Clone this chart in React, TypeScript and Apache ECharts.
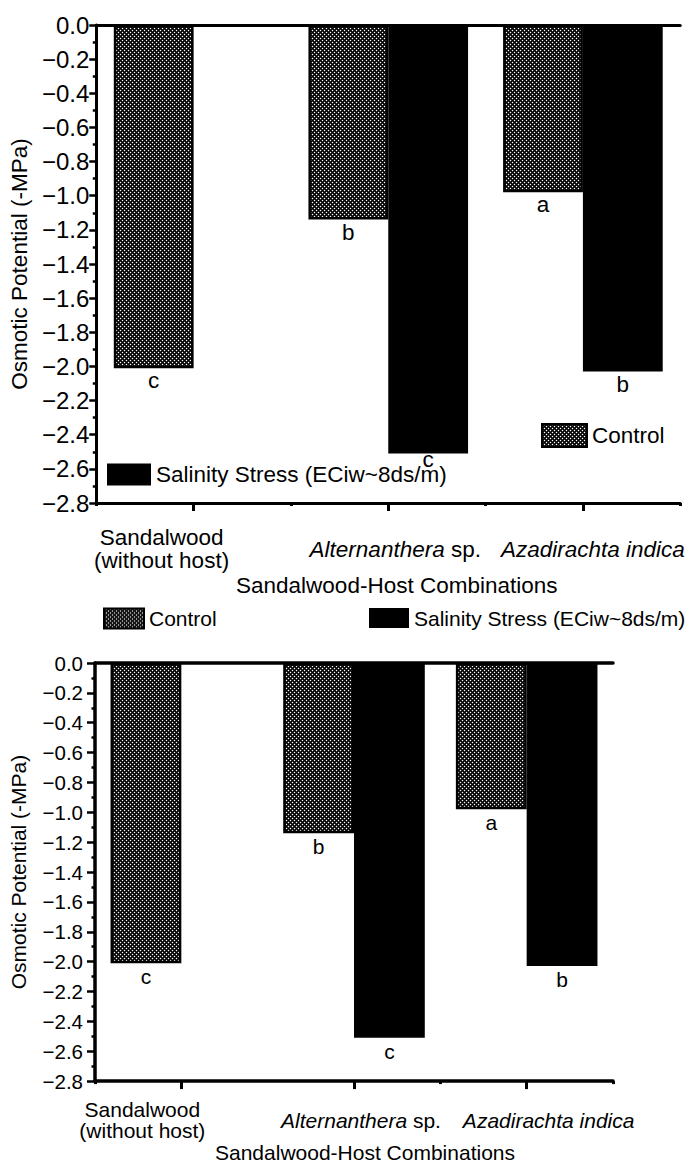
import React, { useEffect, useRef } from 'react';
import * as echarts from 'echarts';

// ---------- data ----------
const categories = ['Sandalwood (without host)', 'Alternanthera sp.', 'Azadirachta indica'];
const seriesNames = ['Control', 'Salinity Stress (ECiw~8ds/m)'];
const controlValues = [-2.01, -1.14, -0.98];
const salinityValues: (number | null)[] = [null, -2.51, -2.03];
const controlLetters = ['c', 'b', 'a'];
const salinityLetters = ['', 'c', 'b'];
const yMin = -2.8;
const yMax = 0;
const yInterval = 0.2;
const yAxisTitle = 'Osmotic Potential (-MPa)';
const xAxisTitle = 'Sandalwood-Host Combinations';

const FONT = '"Liberation Sans", Arial, Helvetica, sans-serif';

function makePattern(): string {
  const c = document.createElement('canvas');
  c.width = 4;
  c.height = 4;
  const ctx = c.getContext('2d')!;
  const img = ctx.createImageData(4, 4);
  for (let y = 0; y < 4; y++) {
    for (let x = 0; x < 4; x++) {
      let v = 255;
      if (x === y || (x + y) % 4 === 0) v = 0;
      else if (!((x === 2 && y === 0) || (x === 0 && y === 2))) v = 45;
      const k = (y * 4 + x) * 4;
      img.data[k] = v;
      img.data[k + 1] = v;
      img.data[k + 2] = v;
      img.data[k + 3] = 255;
    }
  }
  ctx.putImageData(img, 0, 0);
  return c.toDataURL();
}

const layouts = [
  {
    grid: { left: 87, top: 25, width: 595, height: 478 },
    axisW: 3, tickFont: 24, labelMargin: 7, tickLen: 7,
    yNameFont: 22.5, yNameGap: 55,
    xFont: 22.5, xLh: 23, xMargin: 46, padS: 64, padA: 14, padZ: 20,
    xNameGap: 71, xNameShift: 17,
    barFont: 22.5, barDist: 1, saltFix: -5 as number | null,
    legendFont: 22.5,
    legends: [
      { s: 0, left: 541, top: 423, w: 45, h: 23 },
      { s: 1, left: 107, top: 463, w: 44, h: 22 },
    ],
  },
  {
    grid: { left: 95, top: 663, width: 518, height: 419 },
    axisW: 3.5, tickFont: 20.5, labelMargin: 12, tickLen: 8,
    yNameFont: 21, yNameGap: 66,
    xFont: 21, xLh: 21, xMargin: 39, padS: 78, padA: 14, padZ: 44,
    xNameGap: 57.5, xNameShift: 22,
    barFont: 21, barDist: 3, saltFix: null as number | null,
    legendFont: 21,
    legends: [
      { s: 0, left: 103, top: 607.5, w: 40, h: 20 },
      { s: 1, left: 369, top: 607.5, w: 40, h: 20 },
    ],
  },
];

function buildOption() {
  const pattern = { image: makePattern(), repeat: 'repeat', imageWidth: 4, imageHeight: 4 } as any;
  const grid: any[] = [];
  const xAxis: any[] = [];
  const yAxis: any[] = [];
  const series: any[] = [];
  const legend: any[] = [];
  const black = '#000';

  layouts.forEach((L, gi) => {
    grid.push({ ...L.grid, containLabel: false });
    const mainX = xAxis.length;
    xAxis.push({
      type: 'category', gridIndex: gi, data: categories, position: 'bottom',
      axisLine: { show: true, onZero: false, lineStyle: { color: black, width: L.axisW } },
      axisTick: { show: true, alignWithLabel: true, length: 8, lineStyle: { color: black, width: 3 } },
      axisLabel: {
        show: true, interval: 0, margin: L.xMargin, verticalAlign: 'middle', color: black,
        fontFamily: FONT, fontSize: L.xFont, lineHeight: L.xLh,
        formatter: (_v: string, i: number) =>
          [
            '{s|Sandalwood}\n{s|(without host)}',
            '{i1|Alternanthera}{n| sp.}',
            '{i2|Azadirachta indica}',
          ][i],
        rich: {
          s: { fontFamily: FONT, fontSize: L.xFont, lineHeight: L.xLh, color: black, padding: [0, L.padS, 0, 0] },
          i1: { fontFamily: FONT, fontSize: L.xFont, lineHeight: L.xLh, color: black, fontStyle: 'italic', padding: [0, 0, 0, L.padA] },
          n: { fontFamily: FONT, fontSize: L.xFont, lineHeight: L.xLh, color: black },
          i2: { fontFamily: FONT, fontSize: L.xFont, lineHeight: L.xLh, color: black, fontStyle: 'italic', padding: [0, 0, 0, L.padZ] },
        },
      },
      name: xAxisTitle, nameLocation: 'middle', nameGap: L.xNameGap,
      nameTextStyle: { fontFamily: FONT, fontSize: L.xFont, color: black, padding: [0, 0, 0, L.xNameShift] },
      splitLine: { show: false },
    });
    xAxis.push({
      type: 'category', gridIndex: gi, data: categories, position: 'bottom',
      axisLine: { show: false, onZero: false },
      axisTick: { show: true, alignWithLabel: false, length: 3, lineStyle: { color: black, width: 3 } },
      axisLabel: { show: false }, splitLine: { show: false },
    });
    xAxis.push({
      type: 'category', gridIndex: gi, data: categories, position: 'top',
      axisLine: { show: true, onZero: false, lineStyle: { color: black, width: L.axisW } },
      axisTick: { show: false }, axisLabel: { show: false }, splitLine: { show: false },
    });
    yAxis.push({
      type: 'value', gridIndex: gi, min: yMin, max: yMax, interval: yInterval,
      axisLine: { show: true, lineStyle: { color: black, width: L.axisW } },
      axisTick: { show: true, length: L.tickLen, lineStyle: { color: black, width: 2.5 } },
      minorTick: { show: true, splitNumber: 2, length: 3.5, lineStyle: { color: black, width: 2.5 } },
      splitLine: { show: false }, minorSplitLine: { show: false },
      axisLabel: {
        color: black, fontFamily: FONT, fontSize: L.tickFont, margin: L.labelMargin,
        formatter: (v: number) => (Math.abs(v) < 1e-9 ? '0.0' : '\u2212' + Math.abs(v).toFixed(1)),
      },
      name: yAxisTitle, nameLocation: 'middle', nameGap: L.yNameGap,
      nameTextStyle: { fontFamily: FONT, fontSize: L.yNameFont, color: black },
    });
    series.push({
      type: 'bar', name: seriesNames[0], xAxisIndex: mainX, yAxisIndex: gi,
      data: controlValues, barGap: '0%', barCategoryGap: '18%',
      itemStyle: { color: pattern, borderColor: black, borderWidth: 2.5 },
      label: {
        show: true, position: 'bottom', distance: L.barDist, color: black, fontFamily: FONT, fontSize: L.barFont,
        formatter: (p: any) => controlLetters[p.dataIndex],
      },
    });
    series.push({
      type: 'bar', name: seriesNames[1], xAxisIndex: mainX, yAxisIndex: gi,
      data: salinityValues.map((v, i) =>
        L.saltFix !== null && i === 1 ? { value: v, label: { distance: L.saltFix } } : v
      ),
      barGap: '0%', barCategoryGap: '18%',
      itemStyle: { color: black },
      label: {
        show: true, position: 'bottom', distance: L.barDist, color: black, fontFamily: FONT, fontSize: L.barFont,
        formatter: (p: any) => salinityLetters[p.dataIndex],
      },
    });
    L.legends.forEach((lg) => {
      legend.push({
        data: [seriesNames[lg.s]], left: lg.left, top: lg.top, padding: 0, icon: 'rect',
        itemWidth: lg.w, itemHeight: lg.h, selectedMode: false, orient: 'horizontal',
        textStyle: { fontFamily: FONT, fontSize: L.legendFont, color: black },
      });
    });
  });

  return {
    animation: false,
    backgroundColor: '#fff',
    textStyle: { fontFamily: FONT },
    grid, xAxis, yAxis, series, legend,
  };
}

export default function App() {
  const ref = useRef<HTMLDivElement>(null);
  useEffect(() => {
    if (!ref.current) return;
    const chart = echarts.init(ref.current, undefined, { renderer: 'svg' });
    chart.setOption(buildOption() as any);
    return () => chart.dispose();
  }, []);
  return (
    <div
      ref={ref}
      style={{ position: 'absolute', left: 0, top: 0, width: 686, height: 1164, background: '#fff' }}
    />
  );
}
